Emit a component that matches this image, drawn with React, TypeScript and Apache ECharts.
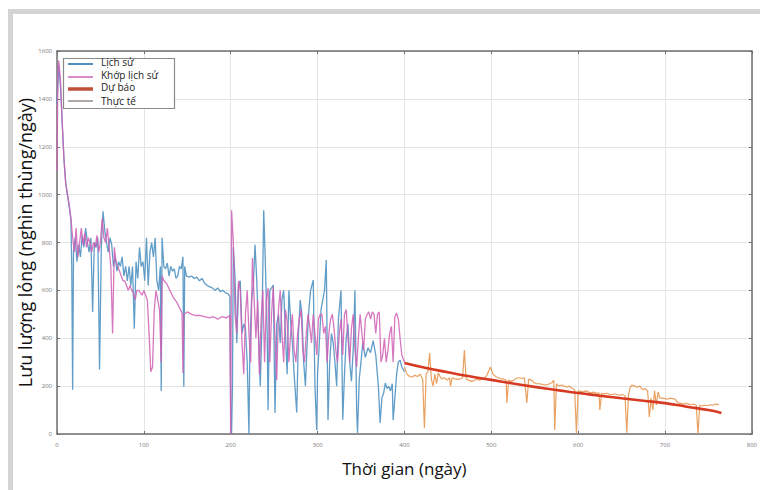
import React, { useEffect, useRef } from "react";
import * as echarts from "echarts";

// ---- Data (day, value in thousand barrels/day) ----
const histData: [number, number][] = [
  [0, 1380], [2, 1540], [4, 1450], [6, 1300], [8, 1150], [10, 1050], [12, 1000], [14, 950], [16, 900], [17, 700], [18, 185], [19, 760],
  [21, 820], [23, 720], [25, 790], [27, 740], [29, 830], [31, 780], [33, 860], [35, 800], [37, 760], [39, 820], [41, 510], [43, 800],
  [45, 780], [47, 820], [49, 270], [51, 780], [53, 930], [55, 850], [57, 800], [59, 760], [61, 820], [63, 790], [65, 700], [67, 740],
  [69, 680], [71, 720], [73, 700], [75, 740], [77, 660], [79, 700], [81, 640], [83, 700], [85, 620], [87, 700], [89, 440], [91, 720],
  [93, 650], [95, 780], [97, 700], [99, 720], [101, 640], [103, 820], [105, 620], [107, 760], [109, 800], [111, 740], [113, 820],
  [115, 640], [117, 600], [119, 700], [120, 180], [121, 820], [123, 700], [125, 690], [127, 714], [129, 660], [131, 700], [133, 680],
  [135, 690], [137, 650], [139, 660], [141, 700], [143, 690], [145, 740], [146, 197], [147, 700], [149, 660], [152, 655], [155, 660],
  [158, 650], [161, 655], [164, 640], [167, 650], [170, 630], [173, 620], [176, 615], [179, 610], [182, 600], [185, 610], [188, 595],
  [191, 600], [194, 590], [197, 585], [199, 575], [200, 100], [201, 0], [202, 200], [203, 780], [205, 650], [207, 380], [209, 620],
  [211, 640], [213, 420], [215, 460], [217, 440], [219, 300], [221, 0], [222, 350], [224, 560], [226, 620], [228, 790], [230, 640],
  [232, 420], [234, 200], [236, 460], [238, 935], [240, 700], [242, 420], [243, 100], [245, 600], [247, 610], [249, 622], [251, 88],
  [253, 460], [255, 500], [257, 380], [259, 560], [261, 600], [263, 420], [265, 250], [267, 600], [269, 470], [271, 380], [273, 250],
  [276, 90], [278, 420], [280, 560], [282, 500], [284, 300], [286, 200], [288, 380], [290, 520], [292, 600], [295, 643], [297, 200],
  [299, 17], [300, 250], [302, 380], [304, 520], [306, 560], [308, 600], [310, 727], [312, 58], [314, 300], [316, 420], [318, 380],
  [320, 300], [322, 200], [324, 480], [326, 560], [327, 600], [329, 60], [331, 250], [333, 400], [335, 460], [337, 300], [339, 220],
  [341, 350], [343, 600], [345, 100], [346, 4], [348, 230], [350, 300], [352, 380], [355, 320], [358, 360], [361, 340], [364, 390],
  [367, 330], [370, 200], [372, 46], [374, 150], [376, 170], [378, 213], [380, 190], [382, 200], [384, 180], [386, 210], [387, 58],
  [389, 150], [391, 250], [393, 300], [395, 309], [397, 280], [400, 260],
];

const fitData: [number, number][] = [
  [0, 1100], [1, 1500], [2, 1560], [4, 1480], [6, 1300], [8, 1150], [10, 1050], [12, 1000], [14, 960], [16, 900], [18, 820], [20, 760],
  [22, 860], [24, 740], [26, 800], [28, 860], [30, 790], [32, 840], [34, 780], [36, 820], [38, 800], [40, 760], [42, 800], [44, 780],
  [46, 830], [48, 760], [50, 800], [52, 900], [54, 820], [56, 800], [58, 860], [60, 780], [62, 700], [64, 420], [66, 780], [68, 720],
  [70, 700], [72, 680], [74, 660], [76, 640], [78, 640], [80, 620], [82, 600], [84, 620], [86, 600], [88, 590], [90, 560], [92, 600],
  [94, 600], [96, 590], [98, 580], [100, 600], [102, 580], [104, 560], [106, 420], [108, 260], [110, 280], [112, 520], [114, 600],
  [116, 560], [118, 520], [120, 300], [121, 660], [123, 640], [126, 630], [130, 600], [134, 570], [138, 550], [142, 520], [144, 505],
  [145, 255], [146, 500], [150, 510], [155, 500], [160, 495], [165, 495], [170, 490], [175, 485], [180, 490], [185, 480], [190, 490],
  [195, 485], [199, 495], [200, 0], [201, 935], [203, 800], [205, 500], [207, 420], [209, 640], [211, 600], [213, 380], [215, 250],
  [217, 500], [219, 600], [221, 420], [223, 300], [225, 735], [227, 560], [229, 400], [231, 560], [233, 250], [235, 480], [237, 600],
  [239, 300], [241, 560], [243, 610], [245, 300], [247, 500], [249, 615], [251, 400], [253, 225], [255, 520], [257, 600], [259, 420],
  [261, 300], [263, 520], [265, 470], [267, 300], [269, 420], [271, 500], [273, 350], [275, 300], [277, 420], [279, 480], [281, 520],
  [283, 350], [285, 300], [287, 420], [289, 500], [291, 450], [293, 380], [295, 500], [297, 420], [299, 330], [301, 480], [303, 500],
  [305, 500], [307, 420], [309, 450], [311, 300], [313, 420], [315, 480], [317, 500], [319, 440], [321, 350], [323, 300], [325, 420],
  [327, 480], [329, 330], [331, 500], [333, 520], [335, 400], [337, 300], [339, 440], [341, 500], [343, 350], [345, 280], [347, 400],
  [349, 500], [351, 420], [353, 350], [355, 480], [357, 500], [359, 510], [361, 480], [363, 510], [365, 500], [367, 420], [369, 500],
  [371, 510], [373, 300], [375, 330], [377, 400], [379, 300], [381, 350], [383, 420], [385, 450], [387, 300], [389, 490], [391, 505],
  [393, 480], [395, 400], [397, 330], [400, 300],
];

const forecastData: [number, number][] = [
  [400, 297], [425, 276], [450, 258], [475, 241], [500, 226], [525, 211], [550, 197], [575, 184], [600, 171], [625, 160],
  [650, 149], [675, 139], [700, 129], [725, 114], [750, 100], [765, 88],
];

const actualData: [number, number][] = [
  [400, 280], [403, 250], [406, 240], [409, 238], [412, 245], [415, 240], [418, 250], [421, 230], [423, 25], [425, 250], [427, 260],
  [429, 338], [431, 230], [433, 200], [435, 250], [437, 210], [439, 255], [441, 240], [443, 230], [446, 235], [449, 225], [452, 235],
  [453, 200], [455, 235], [458, 230], [461, 228], [464, 230], [467, 235], [469, 351], [471, 230], [474, 225], [477, 220], [480, 222],
  [483, 230], [486, 225], [489, 228], [492, 232], [495, 245], [499, 280], [502, 250], [505, 240], [508, 235], [511, 230], [514, 230],
  [517, 225], [518, 130], [520, 225], [523, 220], [526, 225], [529, 233], [532, 235], [535, 232], [538, 235], [541, 130], [543, 230],
  [546, 225], [549, 215], [552, 210], [555, 210], [558, 208], [561, 205], [564, 205], [567, 210], [570, 215], [572, 225], [573, 17],
  [575, 210], [578, 200], [581, 205], [584, 200], [587, 195], [590, 200], [593, 190], [596, 185], [598, 4], [600, 180], [603, 178],
  [606, 176], [609, 180], [612, 175], [615, 172], [618, 175], [621, 170], [624, 172], [625, 100], [627, 170], [630, 168], [633, 170],
  [636, 165], [639, 165], [642, 168], [645, 165], [648, 162], [651, 165], [654, 160], [656, 5], [658, 165], [660, 195], [662, 205],
  [665, 200], [668, 195], [671, 200], [674, 185], [677, 190], [680, 180], [682, 71], [684, 150], [686, 100], [688, 180], [690, 120],
  [692, 176], [694, 150], [697, 150], [700, 148], [703, 145], [706, 150], [709, 148], [712, 145], [715, 130], [718, 128], [721, 125],
  [724, 128], [727, 125], [730, 122], [733, 125], [736, 120], [738, 0], [740, 120], [743, 118], [746, 120], [749, 118], [752, 122],
  [755, 120], [758, 125], [762, 123],
];

const seriesNames = ["Lịch sử", "Khớp lịch sử", "Dự báo", "Thực tế"];
const xTitle = "Thời gian (ngày)";
const yTitle = "Lưu lượng lỏng (nghìn thùng/ngày)";

const COLORS = {
  hist: "#4f92c2",
  fit: "#cf5fb4",
  forecast: "#d63a22",
  actual: "#e8964f",
};

export default function App() {
  const ref = useRef<HTMLDivElement>(null);

  useEffect(() => {
    if (!ref.current) return;
    const chart = echarts.init(ref.current, undefined, { renderer: "svg" });
    const font = "'Open Sans', 'Noto Sans', sans-serif";
    const gridLeft = 57, gridTop = 51, gridW = 698, gridH = 383;

    const legendItems = [
      { name: seriesNames[0], color: COLORS.hist, ly: 64, ty: 62, w: 2 },
      { name: seriesNames[1], color: "#d98cc6", ly: 77, ty: 74.5, w: 2 },
      { name: seriesNames[2], color: "#c0503a", ly: 89, ty: 87, w: 3.5 },
      { name: seriesNames[3], color: "#b0a8a4", ly: 101, ty: 100.5, w: 2 },
    ];

    const graphic: any[] = [
      { type: "rect", silent: true, shape: { x: 8, y: 9, width: 752, height: 5 }, style: { fill: "#d4d4d4" } },
      { type: "rect", silent: true, shape: { x: 8, y: 9, width: 5, height: 481 }, style: { fill: "#d4d4d4" } },
      {
        type: "rect", z: 100, shape: { x: 63.5, y: 58.5, width: 111, height: 50 },
        style: { fill: "#ffffff", stroke: "#8a8a8a", lineWidth: 1.2 },
      },
    ];
    legendItems.forEach((it) => {
      graphic.push({
        type: "line", z: 101, shape: { x1: 68, y1: it.ly, x2: 93, y2: it.ly },
        style: { stroke: it.color, lineWidth: it.w },
      });
      graphic.push({
        type: "text", z: 102, x: 101, y: it.ty,
        style: { text: it.name, font: `10px ${font}`, fill: "#1a1a1a", verticalAlign: "middle", align: "left", lineHeight: 10 },
      });
    });

    const axisCommon = {
      type: "value" as const,
      axisLine: { show: true, onZero: false, lineStyle: { color: "#6f6f6f", width: 1.5 } },
      axisTick: { show: true, inside: true, length: 3, lineStyle: { color: "#6f6f6f" } },
    };

    chart.setOption({
      animation: false,
      backgroundColor: "#ffffff",
      grid: { left: gridLeft, top: gridTop, width: gridW, height: gridH, containLabel: false },
      xAxis: [
        {
          ...axisCommon, min: 0, max: 800, interval: 100, position: "bottom",
          name: xTitle, nameLocation: "middle", nameGap: 26,
          nameTextStyle: { fontSize: 17, color: "#111", fontFamily: font },
          axisLabel: { fontSize: 6, color: "#777", margin: 8, fontFamily: font, formatter: (v: number) => String(v) },
          splitLine: { show: true, lineStyle: { color: "#e4e4e4", width: 1 } },
        },
        {
          ...axisCommon, min: 0, max: 800, interval: 100, position: "top",
          axisLabel: { show: false }, splitLine: { show: false },
        },
      ],
      yAxis: [
        {
          ...axisCommon, min: 0, max: 1600, interval: 200, position: "left",
          name: yTitle, nameLocation: "middle", nameGap: 23, nameRotate: 90, nameMoveOverlap: false,
          nameTextStyle: { fontSize: 18, color: "#111", fontFamily: font },
          axisLabel: { fontSize: 6, color: "#777", margin: 5, fontFamily: font, formatter: (v: number) => String(v) },
          splitLine: { show: true, lineStyle: { color: "#e4e4e4", width: 1 } },
        },
        {
          ...axisCommon, min: 0, max: 1600, interval: 200, position: "right",
          axisLabel: { show: false }, splitLine: { show: false },
        },
      ],
      graphic,
      series: [
        {
          name: seriesNames[0], type: "line", data: histData, showSymbol: false,
          lineStyle: { color: COLORS.hist, width: 1.3, opacity: 0.9 }, z: 3,
        },
        {
          name: seriesNames[1], type: "line", data: fitData, showSymbol: false,
          lineStyle: { color: COLORS.fit, width: 1.3, opacity: 0.85 }, z: 4,
        },
        {
          name: seriesNames[3], type: "line", data: actualData, showSymbol: false,
          lineStyle: { color: COLORS.actual, width: 1.2, opacity: 0.9 }, z: 5,
        },
        {
          name: seriesNames[2], type: "line", data: forecastData, showSymbol: false, smooth: true,
          lineStyle: { color: COLORS.forecast, width: 2.6 }, z: 6,
        },
      ],
    });
    return () => chart.dispose();
  }, []);

  return (
    <div
      ref={ref}
      style={{ position: "fixed", left: 0, top: 0, width: 760, height: 490, background: "#fff" }}
    />
  );
}
